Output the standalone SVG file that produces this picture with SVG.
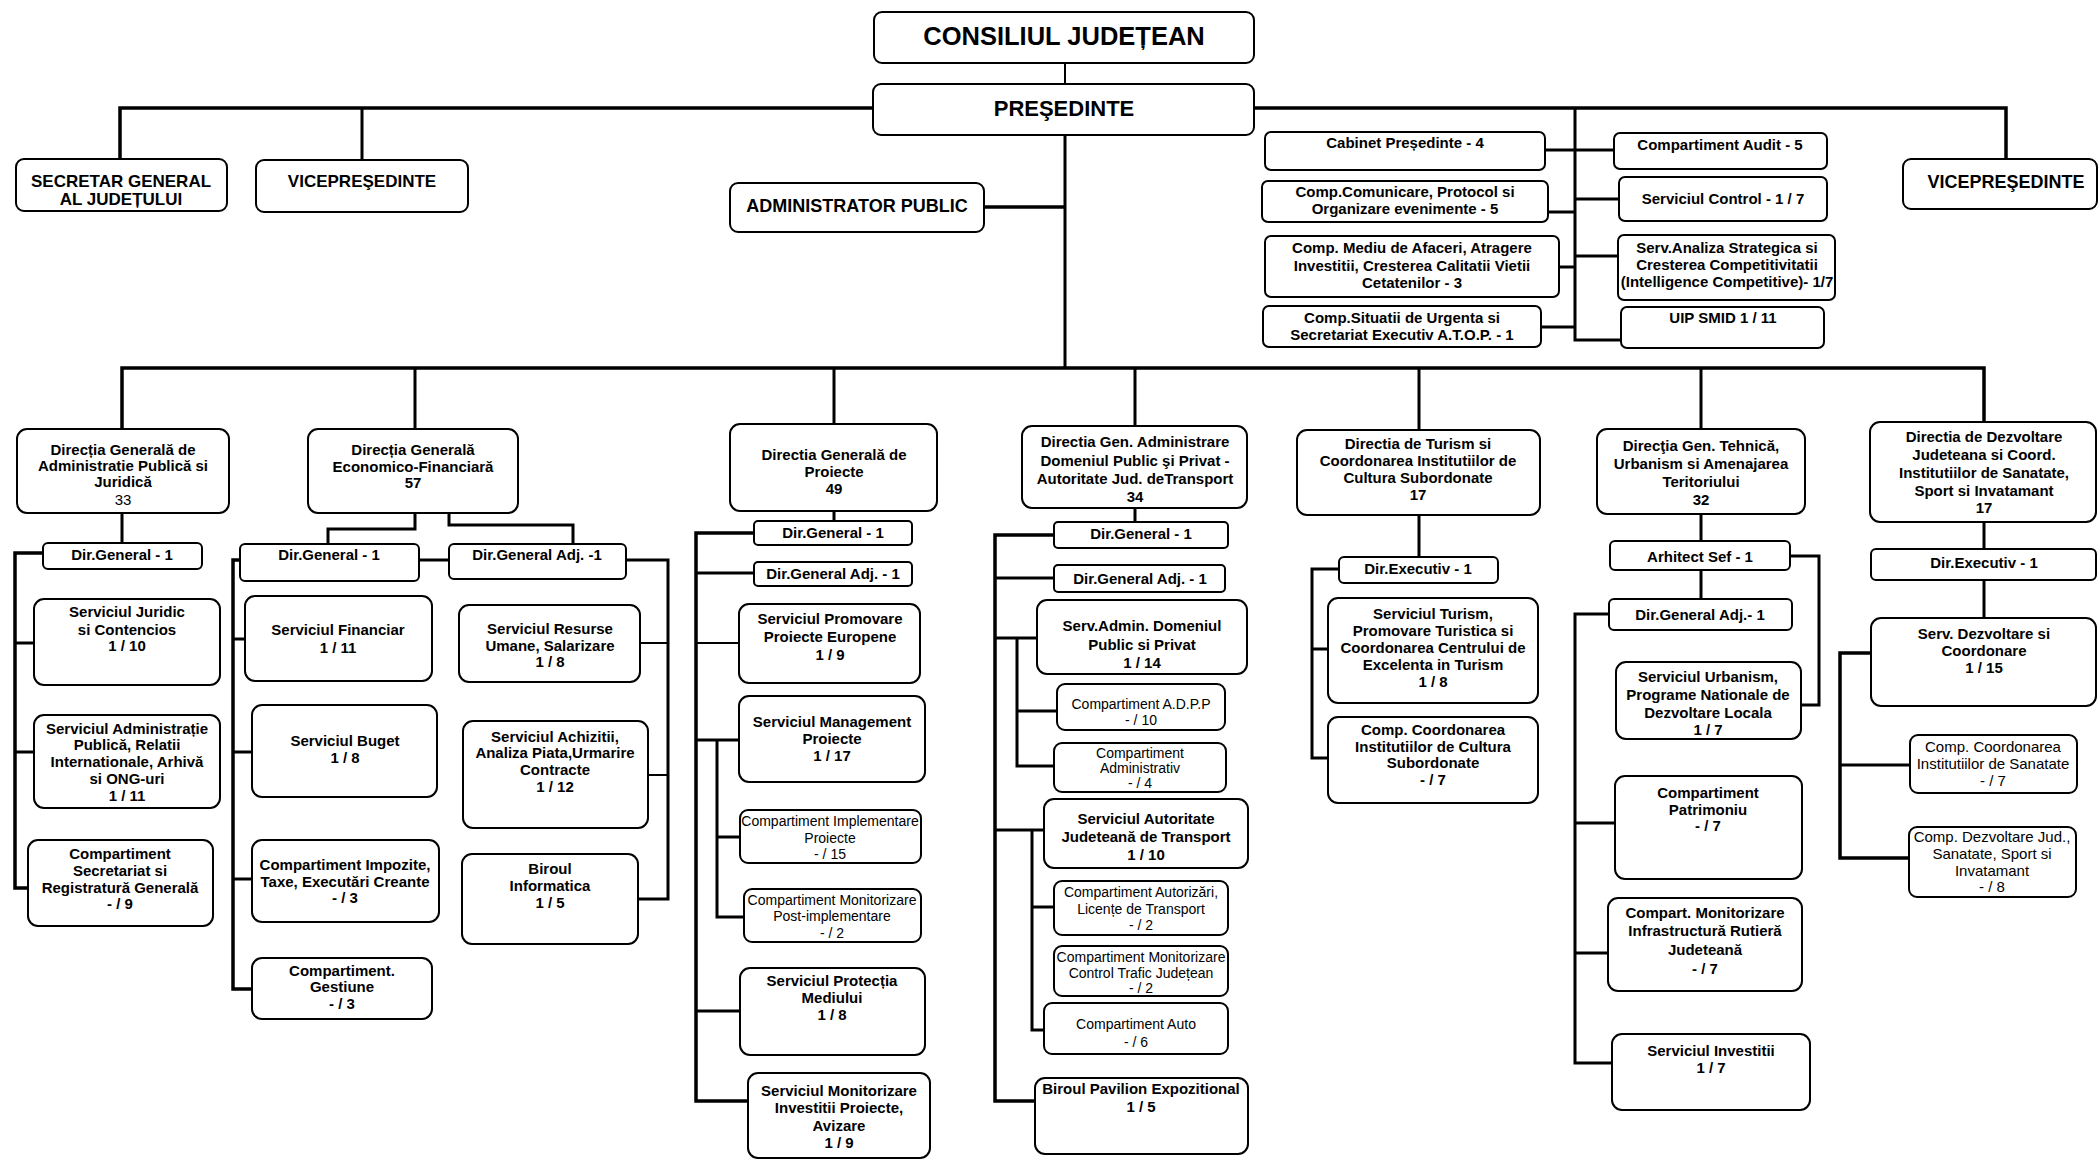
<svg xmlns="http://www.w3.org/2000/svg" width="2098" height="1161" viewBox="0 0 2098 1161">
<style>
.bx{fill:#fff;stroke:#000;stroke-width:2}
.c{fill:none;stroke:#000;stroke-width:3;stroke-linejoin:miter}
.m{stroke-width:3.5}
.t{stroke-width:2}
text{font-family:"Liberation Sans",Arial,sans-serif;text-anchor:middle;fill:#000}
.b{font-weight:bold;font-size:15px}
.r{font-size:14px}
.r15{font-size:15px}
.h1{font-weight:bold;font-size:25.5px}
.h2{font-weight:bold;font-size:22px}
.h3{font-weight:bold;font-size:17px}
.h4{font-weight:bold;font-size:18px}
</style>
<rect width="2098" height="1161" fill="#fff"/>
<g id="connectors">
<path class="c t" d="M1065,63 V84"/>
<path class="c m" d="M120,159 V108 H873"/>
<path class="c" d="M362,108 V160"/>
<path class="c m" d="M1254,108 H2006 V159"/>
<path class="c" d="M1065,135 V368"/>
<path class="c m" d="M984,207 H1065"/>
<path class="c" d="M1575,108 V340 H1621"/>
<path class="c" d="M1545,150 H1614"/>
<path class="c" d="M1548,212 H1575"/>
<path class="c" d="M1575,199 H1619"/>
<path class="c" d="M1559,267 H1575"/>
<path class="c" d="M1575,256 H1618"/>
<path class="c" d="M1541,327 H1575"/>
<path class="c m" d="M122,429 V368 H1984 V422"/>
<path class="c" d="M415,368 V429"/>
<path class="c" d="M834,368 V424"/>
<path class="c" d="M1135,368 V426"/>
<path class="c" d="M1419,368 V430"/>
<path class="c" d="M1701,368 V429"/>
<path class="c" d="M122,513 V543"/>
<path class="c m" d="M43,553 H15 V888 H28"/>
<path class="c" d="M15,643 H34"/>
<path class="c" d="M15,752 H34"/>
<path class="c" d="M415,513 V529 H328 V544"/>
<path class="c" d="M449,513 V525 H573 V544"/>
<path class="c" d="M419,560 H449"/>
<path class="c" d="M626,560 H668 V899 H638"/>
<path class="c t" d="M640,643 H668"/>
<path class="c t" d="M648,775 H668"/>
<path class="c m" d="M240,560 H233 V989 H252"/>
<path class="c" d="M233,639 H245"/>
<path class="c" d="M233,752 H252"/>
<path class="c" d="M233,879 H252"/>
<path class="c" d="M834,511 V521"/>
<path class="c m" d="M754,533 H696 V1101 H748"/>
<path class="c" d="M696,573 H754"/>
<path class="c t" d="M696,643 H739"/>
<path class="c" d="M696,740 H739"/>
<path class="c" d="M696,1011 H740"/>
<path class="c" d="M717,740 V917 H744"/>
<path class="c" d="M717,837 H740"/>
<path class="c" d="M1135,508 V522"/>
<path class="c m" d="M1054,535 H995 V1101 H1035"/>
<path class="c" d="M995,578 H1054"/>
<path class="c" d="M995,638 H1037"/>
<path class="c" d="M995,830 H1044"/>
<path class="c" d="M1017,638 V766 H1054"/>
<path class="c" d="M1017,711 H1057"/>
<path class="c" d="M1032,830 V1030 H1044"/>
<path class="c" d="M1032,907 H1054"/>
<path class="c" d="M1419,515 V557"/>
<path class="c" d="M1339,569 H1312 V758 H1328"/>
<path class="c" d="M1312,649 H1328"/>
<path class="c" d="M1701,514 V541"/>
<path class="c" d="M1701,570 V599"/>
<path class="c" d="M1609,614 H1575 V1063 H1612"/>
<path class="c" d="M1575,823 H1615"/>
<path class="c" d="M1575,953 H1608"/>
<path class="c" d="M1790,556 H1819 V705 H1801"/>
<path class="c" d="M1984,522 V549"/>
<path class="c" d="M1984,580 V618"/>
<path class="c m" d="M1871,653 H1840 V858 H1909"/>
<path class="c" d="M1840,765 H1910"/>
</g>

<g id="consiliul"><rect class="bx" x="874" y="12" width="380" height="51" rx="8"/><text class="h1" x="1064" y="45">CONSILIUL JUDEȚEAN</text></g>
<g id="presedinte"><rect class="bx" x="873" y="84" width="381" height="51" rx="8"/><text class="h2" x="1064" y="116">PREŞEDINTE</text></g>
<g id="secretar"><rect class="bx" x="16" y="159" width="211" height="52" rx="8"/><text class="h3"><tspan x="121" y="187">SECRETAR GENERAL</tspan><tspan x="121" y="205">AL JUDEȚULUI</tspan></text></g>
<g id="vice1"><rect class="bx" x="256" y="160" width="212" height="52" rx="8"/><text class="h3" x="362" y="187">VICEPREŞEDINTE</text></g>
<g id="admin"><rect class="bx" x="730" y="183" width="254" height="49" rx="8"/><text class="h4" x="857" y="212">ADMINISTRATOR PUBLIC</text></g>
<g id="vice2"><rect class="bx" x="1903" y="159" width="194" height="50" rx="8"/><text class="h4" x="2006" y="188">VICEPREŞEDINTE</text></g>

<g id="cabinet"><rect class="bx" x="1265" y="132" width="280" height="38" rx="6"/><text class="b" x="1405" y="148">Cabinet Președinte -  4</text></g>
<g id="comunicare"><rect class="bx" x="1262" y="181" width="286" height="41" rx="6"/><text class="b"><tspan x="1405" y="197">Comp.Comunicare, Protocol si</tspan><tspan x="1405" y="214">Organizare evenimente -  5</tspan></text></g>
<g id="mediu"><rect class="bx" x="1265" y="236" width="294" height="61" rx="6"/><text class="b"><tspan x="1412" y="253">Comp.  Mediu de Afaceri, Atragere</tspan><tspan x="1412" y="271">Investitii, Cresterea Calitatii Vietii</tspan><tspan x="1412" y="288">Cetatenilor - 3</tspan></text></g>
<g id="situatii"><rect class="bx" x="1263" y="306" width="278" height="41" rx="6"/><text class="b"><tspan x="1402" y="323">Comp.Situatii de Urgenta si</tspan><tspan x="1402" y="340">Secretariat Executiv A.T.O.P. -  1</tspan></text></g>
<g id="audit"><rect class="bx" x="1614" y="133" width="213" height="36" rx="6"/><text class="b" x="1720" y="150">Compartiment Audit  - 5</text></g>
<g id="control"><rect class="bx" x="1619" y="177" width="208" height="44" rx="6"/><text class="b" x="1723" y="204">Serviciul Control -  1 / 7</text></g>
<g id="analiza"><rect class="bx" x="1618" y="235" width="217" height="65" rx="6"/><text class="b"><tspan x="1727" y="253">Serv.Analiza Strategica si</tspan><tspan x="1727" y="270">Cresterea Competitivitatii</tspan><tspan x="1727" y="287">(Intelligence Competitive)- 1/7</tspan></text></g>
<g id="uip"><rect class="bx" x="1621" y="307" width="203" height="41" rx="6"/><text class="b" x="1723" y="323">UIP SMID  1 / 11</text></g>

<g id="dgap"><rect class="bx" x="17" y="429" width="212" height="84" rx="10"/><text class="b"><tspan x="123" y="455">Direcția Generală de</tspan><tspan x="123" y="471">Administratie Publică si</tspan><tspan x="123" y="487">Juridică</tspan><tspan x="123" y="505" font-weight="normal">33</tspan></text></g>
<g id="dgap-dg"><rect class="bx" x="43" y="543" width="159" height="26" rx="5"/><text class="b" x="122" y="560">Dir.General - 1</text></g>
<g id="juridic"><rect class="bx" x="34" y="599" width="186" height="86" rx="10"/><text class="b"><tspan x="127" y="617">Serviciul Juridic</tspan><tspan x="127" y="635">si Contencios</tspan><tspan x="127" y="651">1 / 10</tspan></text></g>
<g id="administratie"><rect class="bx" x="34" y="715" width="186" height="93" rx="10"/><text class="b"><tspan x="127" y="734">Serviciul Administrație</tspan><tspan x="127" y="750">Publică, Relatii</tspan><tspan x="127" y="767">Internationale, Arhivă</tspan><tspan x="127" y="784">si ONG-uri</tspan><tspan x="127" y="801">1 / 11</tspan></text></g>
<g id="secretariat"><rect class="bx" x="28" y="840" width="185" height="86" rx="10"/><text class="b"><tspan x="120" y="859">Compartiment</tspan><tspan x="120" y="876">Secretariat si</tspan><tspan x="120" y="893">Registratură Generală</tspan><tspan x="120" y="909">- / 9</tspan></text></g>

<g id="dgef"><rect class="bx" x="308" y="429" width="210" height="84" rx="10"/><text class="b"><tspan x="413" y="455">Direcția Generală</tspan><tspan x="413" y="472">Economico-Financiară</tspan><tspan x="413" y="488">57</tspan></text></g>
<g id="dgef-dg"><rect class="bx" x="240" y="544" width="179" height="37" rx="5"/><text class="b" x="329" y="560">Dir.General - 1</text></g>
<g id="dgef-adj"><rect class="bx" x="449" y="544" width="177" height="35" rx="5"/><text class="b" x="537" y="560">Dir.General Adj. -1</text></g>
<g id="financiar"><rect class="bx" x="245" y="596" width="187" height="85" rx="10"/><text class="b"><tspan x="338" y="635">Serviciul Financiar</tspan><tspan x="338" y="653">1 / 11</tspan></text></g>
<g id="buget"><rect class="bx" x="252" y="705" width="185" height="92" rx="10"/><text class="b"><tspan x="345" y="746">Serviciul Buget</tspan><tspan x="345" y="763">1 / 8</tspan></text></g>
<g id="impozite"><rect class="bx" x="252" y="840" width="187" height="82" rx="10"/><text class="b"><tspan x="345" y="870">Compartiment  Impozite,</tspan><tspan x="345" y="887">Taxe, Executări Creante</tspan><tspan x="345" y="903">- / 3</tspan></text></g>
<g id="gestiune"><rect class="bx" x="252" y="958" width="180" height="61" rx="10"/><text class="b"><tspan x="342" y="976">Compartiment.</tspan><tspan x="342" y="992">Gestiune</tspan><tspan x="342" y="1009">- / 3</tspan></text></g>
<g id="resurse"><rect class="bx" x="459" y="605" width="181" height="77" rx="10"/><text class="b"><tspan x="550" y="634">Serviciul Resurse</tspan><tspan x="550" y="651">Umane, Salarizare</tspan><tspan x="550" y="667">1 / 8</tspan></text></g>
<g id="achizitii"><rect class="bx" x="463" y="721" width="185" height="107" rx="10"/><text class="b"><tspan x="555" y="742">Serviciul Achizitii,</tspan><tspan x="555" y="758">Analiza Piata,Urmarire</tspan><tspan x="555" y="775">Contracte</tspan><tspan x="555" y="792">1 / 12</tspan></text></g>
<g id="informatica"><rect class="bx" x="462" y="854" width="176" height="90" rx="10"/><text class="b"><tspan x="550" y="874">Biroul</tspan><tspan x="550" y="891">Informatica</tspan><tspan x="550" y="908">1 / 5</tspan></text></g>

<g id="dgp"><rect class="bx" x="730" y="424" width="207" height="87" rx="10"/><text class="b"><tspan x="834" y="460">Directia Generală de</tspan><tspan x="834" y="477">Proiecte</tspan><tspan x="834" y="494">49</tspan></text></g>
<g id="dgp-dg"><rect class="bx" x="754" y="521" width="158" height="24" rx="4"/><text class="b" x="833" y="538">Dir.General - 1</text></g>
<g id="dgp-adj"><rect class="bx" x="754" y="562" width="158" height="24" rx="4"/><text class="b" x="833" y="579">Dir.General Adj. - 1</text></g>
<g id="promovare"><rect class="bx" x="739" y="604" width="181" height="79" rx="10"/><text class="b"><tspan x="830" y="624">Serviciul Promovare</tspan><tspan x="830" y="642">Proiecte Europene</tspan><tspan x="830" y="660">1 / 9</tspan></text></g>
<g id="management"><rect class="bx" x="739" y="696" width="186" height="86" rx="10"/><text class="b"><tspan x="832" y="727">Serviciul Management</tspan><tspan x="832" y="744">Proiecte</tspan><tspan x="832" y="761">1 / 17</tspan></text></g>
<g id="implementare"><rect class="bx" x="740" y="810" width="181" height="53" rx="8"/><text class="r"><tspan x="830" y="826">Compartiment Implementare</tspan><tspan x="830" y="843">Proiecte</tspan><tspan x="830" y="859">- / 15</tspan></text></g>
<g id="postimpl"><rect class="bx" x="744" y="889" width="177" height="53" rx="8"/><text class="r"><tspan x="832" y="905">Compartiment Monitorizare</tspan><tspan x="832" y="921">Post-implementare</tspan><tspan x="832" y="938">- / 2</tspan></text></g>
<g id="protectia"><rect class="bx" x="740" y="968" width="185" height="87" rx="10"/><text class="b"><tspan x="832" y="986">Serviciul Protecția</tspan><tspan x="832" y="1003">Mediului</tspan><tspan x="832" y="1020">1 / 8</tspan></text></g>
<g id="investproiecte"><rect class="bx" x="748" y="1073" width="182" height="85" rx="10"/><text class="b"><tspan x="839" y="1096">Serviciul Monitorizare</tspan><tspan x="839" y="1113">Investitii Proiecte,</tspan><tspan x="839" y="1131">Avizare</tspan><tspan x="839" y="1148">1 / 9</tspan></text></g>

<g id="dgadp"><rect class="bx" x="1022" y="426" width="225" height="82" rx="10"/><text class="b"><tspan x="1135" y="447">Directia Gen. Administrare</tspan><tspan x="1135" y="466">Domeniul Public şi Privat -</tspan><tspan x="1135" y="484">Autoritate Jud. deTransport</tspan><tspan x="1135" y="502">34</tspan></text></g>
<g id="dgadp-dg"><rect class="bx" x="1054" y="522" width="174" height="26" rx="4"/><text class="b" x="1141" y="539">Dir.General  - 1</text></g>
<g id="dgadp-adj"><rect class="bx" x="1054" y="565" width="171" height="27" rx="4"/><text class="b" x="1140" y="584">Dir.General Adj. - 1</text></g>
<g id="domeniul"><rect class="bx" x="1037" y="600" width="210" height="74" rx="10"/><text class="b"><tspan x="1142" y="631">Serv.Admin. Domeniul</tspan><tspan x="1142" y="650">Public si Privat</tspan><tspan x="1142" y="668">1 / 14</tspan></text></g>
<g id="adpp"><rect class="bx" x="1057" y="684" width="168" height="46" rx="8"/><text class="r"><tspan x="1141" y="709">Compartiment A.D.P.P</tspan><tspan x="1141" y="725">- / 10</tspan></text></g>
<g id="administrativ"><rect class="bx" x="1054" y="743" width="172" height="49" rx="8"/><text class="r"><tspan x="1140" y="758">Compartiment</tspan><tspan x="1140" y="773">Administrativ</tspan><tspan x="1140" y="788">- / 4</tspan></text></g>
<g id="ajt"><rect class="bx" x="1044" y="799" width="204" height="69" rx="10"/><text class="b"><tspan x="1146" y="824">Serviciul Autoritate</tspan><tspan x="1146" y="842">Judeteană de Transport</tspan><tspan x="1146" y="860">1 / 10</tspan></text></g>
<g id="autorizari"><rect class="bx" x="1054" y="881" width="174" height="54" rx="8"/><text class="r"><tspan x="1141" y="897">Compartiment Autorizări,</tspan><tspan x="1141" y="914">Licențe de Transport</tspan><tspan x="1141" y="930">- / 2</tspan></text></g>
<g id="trafic"><rect class="bx" x="1054" y="946" width="174" height="50" rx="8"/><text class="r"><tspan x="1141" y="962">Compartiment Monitorizare</tspan><tspan x="1141" y="978">Control Trafic Județean</tspan><tspan x="1141" y="993">- / 2</tspan></text></g>
<g id="auto"><rect class="bx" x="1044" y="1003" width="184" height="51" rx="8"/><text class="r"><tspan x="1136" y="1029">Compartiment Auto</tspan><tspan x="1136" y="1047">- / 6</tspan></text></g>
<g id="pavilion"><rect class="bx" x="1035" y="1078" width="213" height="76" rx="10"/><text class="b"><tspan x="1141" y="1094">Biroul Pavilion Expozitional</tspan><tspan x="1141" y="1112">1 / 5</tspan></text></g>

<g id="dtc"><rect class="bx" x="1297" y="430" width="243" height="85" rx="10"/><text class="b"><tspan x="1418" y="449">Directia de Turism si</tspan><tspan x="1418" y="466">Coordonarea Institutiilor  de</tspan><tspan x="1418" y="483">Cultura Subordonate</tspan><tspan x="1418" y="500">17</tspan></text></g>
<g id="dtc-de"><rect class="bx" x="1339" y="557" width="159" height="26" rx="5"/><text class="b" x="1418" y="574">Dir.Executiv  - 1</text></g>
<g id="turism"><rect class="bx" x="1328" y="598" width="210" height="105" rx="10"/><text class="b"><tspan x="1433" y="619">Serviciul Turism,</tspan><tspan x="1433" y="636">Promovare Turistica si</tspan><tspan x="1433" y="653">Coordonarea Centrului de</tspan><tspan x="1433" y="670">Excelenta in Turism</tspan><tspan x="1433" y="687">1 / 8</tspan></text></g>
<g id="cultura"><rect class="bx" x="1328" y="717" width="210" height="86" rx="10"/><text class="b"><tspan x="1433" y="735">Comp. Coordonarea</tspan><tspan x="1433" y="752">Institutiilor de Cultura</tspan><tspan x="1433" y="768">Subordonate</tspan><tspan x="1433" y="785">- / 7</tspan></text></g>

<g id="dgtu"><rect class="bx" x="1597" y="429" width="208" height="85" rx="10"/><text class="b"><tspan x="1701" y="451">Direcţia Gen. Tehnică,</tspan><tspan x="1701" y="469">Urbanism si Amenajarea</tspan><tspan x="1701" y="487">Teritoriului</tspan><tspan x="1701" y="505">32</tspan></text></g>
<g id="arhitect"><rect class="bx" x="1610" y="541" width="180" height="29" rx="5"/><text class="b" x="1700" y="562">Arhitect Sef - 1</text></g>
<g id="dgtu-adj"><rect class="bx" x="1609" y="599" width="183" height="31" rx="5"/><text class="b" x="1700" y="620">Dir.General Adj.- 1</text></g>
<g id="urbanism"><rect class="bx" x="1616" y="662" width="185" height="77" rx="10"/><text class="b"><tspan x="1708" y="682">Serviciul Urbanism,</tspan><tspan x="1708" y="700">Programe Nationale de</tspan><tspan x="1708" y="718">Dezvoltare Locala</tspan><tspan x="1708" y="735">1 / 7</tspan></text></g>
<g id="patrimoniu"><rect class="bx" x="1615" y="776" width="187" height="103" rx="10"/><text class="b"><tspan x="1708" y="798">Compartiment</tspan><tspan x="1708" y="815">Patrimoniu</tspan><tspan x="1708" y="831">- / 7</tspan></text></g>
<g id="rutiera"><rect class="bx" x="1608" y="898" width="194" height="93" rx="10"/><text class="b"><tspan x="1705" y="918">Compart. Monitorizare</tspan><tspan x="1705" y="936">Infrastructură Rutieră</tspan><tspan x="1705" y="955">Judeteană</tspan><tspan x="1705" y="974">-  / 7</tspan></text></g>
<g id="investitii"><rect class="bx" x="1612" y="1034" width="198" height="76" rx="10"/><text class="b"><tspan x="1711" y="1056">Serviciul Investitii</tspan><tspan x="1711" y="1073">1 / 7</tspan></text></g>

<g id="ddj"><rect class="bx" x="1870" y="422" width="226" height="100" rx="10"/><text class="b"><tspan x="1984" y="442">Directia de Dezvoltare</tspan><tspan x="1984" y="460">Judeteana si Coord.</tspan><tspan x="1984" y="478">Institutiilor de Sanatate,</tspan><tspan x="1984" y="496">Sport si  Invatamant</tspan><tspan x="1984" y="513">17</tspan></text></g>
<g id="ddj-de"><rect class="bx" x="1871" y="549" width="225" height="31" rx="5"/><text class="b" x="1984" y="568">Dir.Executiv - 1</text></g>
<g id="dezvoltare"><rect class="bx" x="1871" y="618" width="225" height="88" rx="10"/><text class="b"><tspan x="1984" y="639">Serv. Dezvoltare si</tspan><tspan x="1984" y="656">Coordonare</tspan><tspan x="1984" y="673">1 / 15</tspan></text></g>
<g id="sanatate"><rect class="bx" x="1910" y="735" width="167" height="58" rx="8"/><text class="r15"><tspan x="1993" y="752">Comp. Coordonarea</tspan><tspan x="1993" y="769">Institutiilor de Sanatate</tspan><tspan x="1993" y="786">- / 7</tspan></text></g>
<g id="dezvjud"><rect class="bx" x="1909" y="827" width="167" height="70" rx="8"/><text class="r15"><tspan x="1992" y="842">Comp. Dezvoltare Jud.,</tspan><tspan x="1992" y="859">Sanatate, Sport si</tspan><tspan x="1992" y="876">Invatamant</tspan><tspan x="1992" y="892">- / 8</tspan></text></g>
</svg>
